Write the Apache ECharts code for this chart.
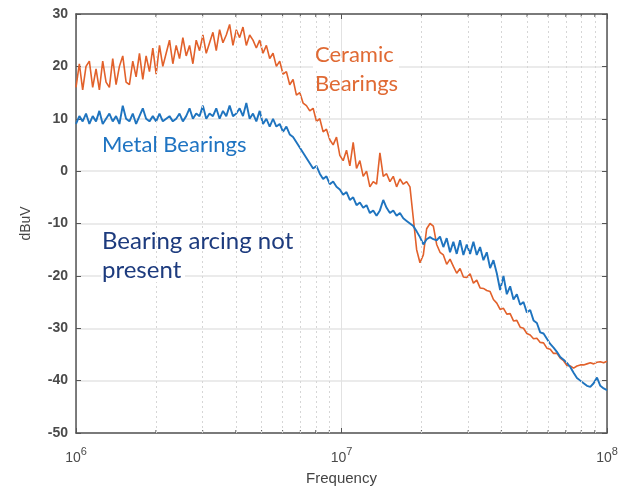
<!DOCTYPE html>
<html><head><meta charset="utf-8">
<script src="https://cdn.jsdelivr.net/npm/echarts@6/dist/echarts.min.js"></script>
<style>html,body{margin:0;padding:0;background:#fff}#c{width:623px;height:488px}</style>
</head><body><div id="c"></div>
<script>
// sweep: 160 log-spaced frequency points from 1 MHz to 100 MHz
var nPts = 160;
var fStartExp = 6, fStopExp = 8;
var ceramic = [
16,20.5,15.5,20,21,16,19.5,15.5,21,17,
16,21.5,16.5,20,22,17,16.5,21,18,22.5,
17.5,22,19,23.5,18.5,24,20,22.5,25,20.5,
24,21.5,25.5,22,24,20.5,25,23,26,22.5,
24.5,26.5,23,27,24.5,26,28,24,27,25.5,
27.5,24,26,25,23.5,25,22.5,24,21.5,22.5,
20,21,18.5,19,16.5,17.5,14.5,15,13,12.5,
11.5,12,9.5,10,7.5,8,6,5,6.5,3,
2,4,1,5.5,0.5,2,-1,0,-3,-2,
-2.5,3.5,-1,-0.5,-2,-1,-3,-1.5,-2.5,-2,
-3,-9,-15,-17.5,-16,-11,-10,-10.5,-14,-15.5,
-16,-17.8,-16.8,-18.2,-19.5,-18.6,-20.2,-20.3,-19.6,-21.4,
-20.8,-22.3,-22.4,-22.8,-23,-24.5,-25.2,-26.4,-26.2,-27.3,
-27.2,-28.6,-28.5,-29.8,-30,-31,-31.3,-32,-31.9,-32.7,
-32.8,-33.8,-34,-34.8,-34.8,-35.7,-36.2,-37.1,-37.2,-37.6,
-37.2,-37,-37,-36.8,-36.6,-36.8,-36.5,-36.4,-36.6,-36.3
];
var metal = [
9,10.5,9.5,11,9,10.5,9.5,11.5,9,10,
11,9.5,10.5,9,12.5,10,9.5,11,9,10.5,
12,10,9.5,10.5,9.5,11,9.5,10,10.5,9.5,
10,11,9.5,10.5,12,10,11,10.5,12.5,10,
11,10.5,12,10,11.5,10.5,12.5,10.5,11,12,
10.5,13,10,11,9.5,11.5,9,10,8.5,10,
8.5,9,7.5,8.5,7,6.5,5.5,4.5,3.5,2.5,
1.5,0.5,1,-0.5,-1.5,-1,-2.5,-2,-3,-3.5,
-4.5,-4,-5.5,-5,-6.5,-6,-7,-6.5,-8,-7.5,
-8.5,-7.5,-5.5,-7,-8,-7.5,-8.5,-8,-9,-9.5,
-10,-10.5,-11.5,-12.6,-14,-13,-12.6,-13,-13.2,-12.5,
-14.5,-12.8,-15.5,-13.5,-15.8,-13.2,-16,-14,-15.8,-13.5,
-16,-14.5,-17,-15.5,-18.5,-17,-19.5,-22.7,-20,-23.5,
-22,-24.5,-23.5,-25.5,-25,-27,-26.5,-28.5,-29,-30.8,
-31,-32,-33,-33.7,-34.5,-35.5,-36,-36.6,-37.4,-38.5,
-39.5,-40,-40.5,-41,-41.2,-40.5,-39.4,-41,-41.5,-41.8
];
var yTicks = [-50,-40,-30,-20,-10,0,10,20,30];
var xMajor = [1e6,1e7,1e8];
var xMinor = [2e6,3e6,4e6,5e6,6e6,7e6,8e6,9e6,2e7,3e7,4e7,5e7,6e7,7e7,8e7,9e7];

var freqs = [];
for (var i = 0; i < nPts; i++) freqs.push(Math.pow(10, fStartExp + i * (fStopExp - fStartExp) / (nPts - 1)));
function pairs(v){ return v.map(function(y,i){ return [freqs[i], y]; }); }

var chart = echarts.init(document.getElementById('c'), null, {renderer:'canvas'});
var axisCol = '#555';
var labelFont = {color:'#4a4a4a', fontSize:14, fontFamily:'Liberation Sans, Arial', fontWeight:'bold'};
var annFont = 'Lato, "Open Sans", sans-serif';
chart.setOption({
  animation:false,
  grid:{left:76, right:16, top:14, bottom:55, containLabel:false, outerBoundsMode:'none'},
  xAxis:[{
    type:'log', logBase:10, min:1e6, max:1e8, position:'bottom',
    name:'Frequency', nameLocation:'middle', nameGap:38,
    nameTextStyle:{color:'#444', fontSize:15, fontFamily:'Liberation Sans, Arial'},
    axisLine:{show:true, onZero:false, lineStyle:{color:axisCol, width:1.5}},
    axisTick:{show:true, inside:true, length:5, lineStyle:{color:axisCol}},
    splitLine:{show:true, lineStyle:{color:'#e2e2e2', width:1}},
    axisLabel:{margin:12, formatter:function(v){ var e=Math.round(Math.log10(v)); return '{b|10}{s|'+e+'}'; },
      rich:{b:{color:'#4a4a4a', fontSize:14, fontFamily:'Liberation Sans, Arial', padding:[6,0,0,0]}, s:{color:'#4a4a4a', fontSize:11, fontFamily:'Liberation Sans, Arial', padding:[0,0,6,0]}}}
  },{
    type:'log', logBase:10, min:1e6, max:1e8, position:'top',
    axisLine:{show:true, onZero:false, lineStyle:{color:axisCol, width:1.5}},
    axisTick:{show:true, inside:true, length:5, lineStyle:{color:axisCol}},
    splitLine:{show:false}, axisLabel:{show:false}
  }],
  yAxis:[{
    type:'value', min:-50, max:30, interval:10, position:'left',
    name:'dBuV', nameLocation:'middle', nameGap:43, nameRotate:90,
    nameTextStyle:{color:'#444', fontSize:14, fontFamily:'Liberation Sans, Arial'},
    axisLine:{show:true, onZero:false, lineStyle:{color:axisCol, width:1.5}},
    axisTick:{show:true, inside:true, length:5, lineStyle:{color:axisCol}},
    splitLine:{show:true, lineStyle:{color:'#e4e4e4', width:1.5}},
    axisLabel:Object.assign({margin:8}, labelFont)
  },{
    type:'value', min:-50, max:30, interval:10, position:'right',
    axisLine:{show:true, onZero:false, lineStyle:{color:axisCol, width:1.5}},
    axisTick:{show:true, inside:true, length:5, lineStyle:{color:axisCol}},
    splitLine:{show:false}, axisLabel:{show:false}
  }],
  series:[
    {type:'line', name:'grid', data:[], silent:true,
     markLine:{silent:true, symbol:'none', label:{show:false},
       lineStyle:{color:'#d6d6d6', type:[2,3], width:1},
       data:xMinor.map(function(f){ return {xAxis:f}; })}},
    {type:'custom', name:'minorTicks', silent:true, data:xMinor.map(function(f){ return [f]; }),
     renderItem:function(params, api){
       var b = api.coord([api.value(0), -50]);
       var t = api.coord([api.value(0), 30]);
       return {type:'group', children:[
         {type:'line', shape:{x1:b[0], y1:b[1], x2:b[0], y2:b[1]-3}, style:{stroke:axisCol, lineWidth:1}},
         {type:'line', shape:{x1:t[0], y1:t[1], x2:t[0], y2:t[1]+3}, style:{stroke:axisCol, lineWidth:1}}
       ]};
     }},
    {type:'line', name:'Ceramic Bearings', data:pairs(ceramic), showSymbol:false, symbol:'none',
     lineStyle:{color:'#e2612b', width:1.6}, z:3},
    {type:'line', name:'Metal Bearings', data:pairs(metal), showSymbol:false, symbol:'none',
     lineStyle:{color:'#1f74bf', width:1.9}, z:4}
  ],
  graphic:[
    {type:'rect', z:10, shape:{x:313, y:58, width:86, height:12}, style:{fill:'#fff'}},
    {type:'rect', z:10, shape:{x:101, y:266, width:84, height:16}, style:{fill:'#fff'}},
    {type:'text', z:11, left:315, top:44, style:{text:'Ceramic', fill:'#e06a34', font:'22px ' + annFont}},
    {type:'text', z:11, left:315, top:73, style:{text:'Bearings', fill:'#e06a34', font:'22px ' + annFont}},
    {type:'text', z:11, left:102, top:134, style:{text:'Metal Bearings', fill:'#1f74c2', font:'22px ' + annFont}},
    {type:'text', z:11, left:102, top:229, style:{text:'Bearing arcing not', fill:'#1d3b7e', font:'24px ' + annFont}},
    {type:'text', z:11, left:102, top:258, style:{text:'present', fill:'#1d3b7e', font:'24px ' + annFont}}
  ]
});
</script></body></html>
